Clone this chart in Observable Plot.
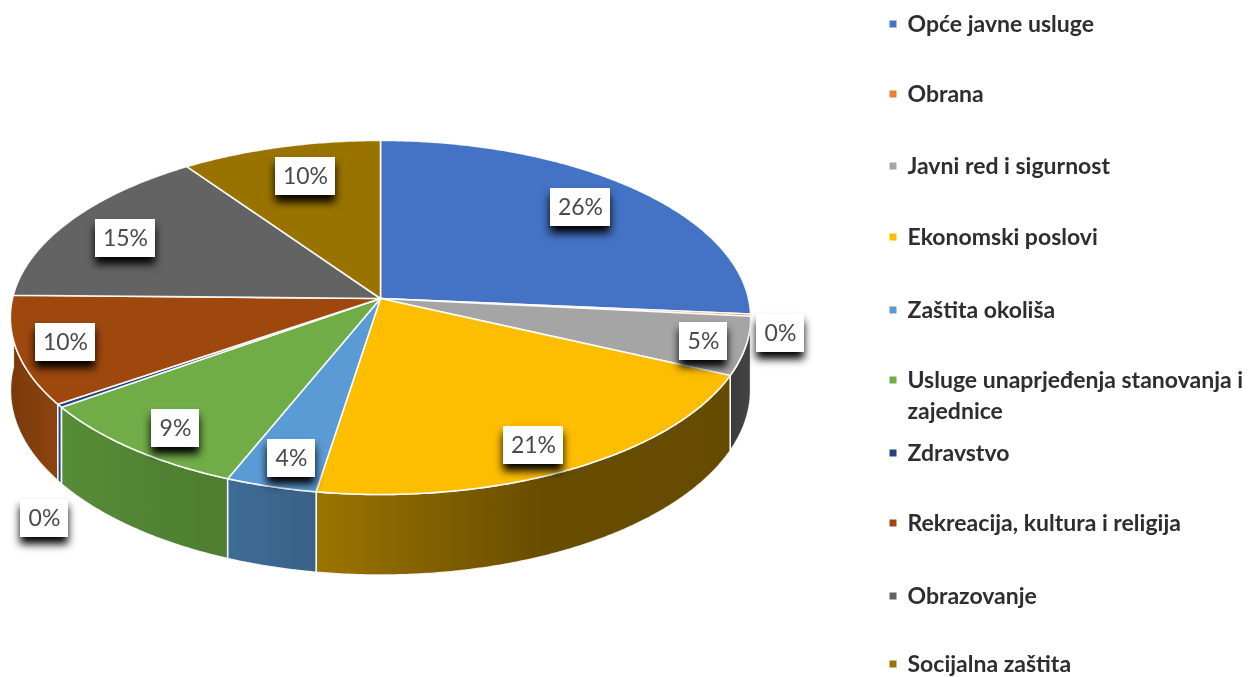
<!DOCTYPE html>
<html>
<head>
<meta charset="utf-8">
<script src="https://cdn.jsdelivr.net/npm/d3@7"></script>
<script src="https://cdn.jsdelivr.net/npm/@observablehq/plot@0.6"></script>
<style>
html,body{margin:0;padding:0;background:#fff}
svg{display:block}
</style>
</head>
<body>
<div id="chart"></div>
<script>
// --- data ---
const categories = ["Opće javne usluge","Obrana","Javni red i sigurnost","Ekonomski poslovi","Zaštita okoliša","Usluge unaprjeđenja stanovanja i\nzajednice","Zdravstvo","Rekreacija, kultura i religija","Obrazovanje","Socijalna zaštita"];
const shares = [26.4,0.2,5.3,20.6,3.6,9.0,0.3,9.9,15.0,9.7];
const labels = ["26%","0%","5%","21%","4%","9%","0%","10%","15%","10%"];
// --- styles ---
const colors = ["#4472c4","#ed7d31","#a5a5a5","#fdbd00","#5b9bd5","#70ad47","#264478","#9e480e","#636363","#997300"];
const sideStops = [
  ["#2f4f88","#2a4678"],["#a05a20","#8a4c1c"],["#3c3c3c","#444444"],["#9c7400","#684d00","#654b00"],
  ["#3d6c98","#3a6186"],["#568c37","#4e7c30"],["#264478","#264478"],["#7a390c","#8d440f"],["#444","#444"],["#6a5000","#6a5000"]
];
// --- layout (pixels) ---
const W = 1257, H = 677, cx = 380, cy = 298, rx = 368, ry = 175, persp = 0.107, depthPx = 72;
const labelCentres = [[580,207],[780,333],[703,341],[533,445],[291,458],[175,428],[44,518],[65,342],[125,238],[305,176]];
const legendRows = [24,94,166,237,310,380,453,523,596,664];
const legendLine = 31, legendSq = 893, legendTx = 907, boxH = 38;

const ux = p => (p - cx) / rx, uy = p => (p - cy) / ry;
const depth = depthPx / ry;

// pie geometry in chart units, from the shares
const project = (deg, r = 1) => {
  const a = deg * Math.PI / 180, X = r * Math.sin(a), Z = r * Math.cos(a), d = 1 + persp * Z;
  return {x: X / d, y: -Z / d, d};
};
let acc = 0;
const arcs = shares.map(v => { const a0 = acc; acc += v; return [a0 * 3.6, acc * 3.6]; });
const steps = ([a0, a1]) => { const n = Math.max(2, Math.ceil((a1 - a0) / 0.5)); return d3.range(n + 1).map(i => a0 + (a1 - a0) * i / n); };
const topFace = arc => [{x: 0, y: 0}, ...steps(arc).map(a => project(a))];
const sideFace = arc => {
  const s = steps(arc);
  return [...s.map(a => project(a)),
          ...s.slice().reverse().map(a => { const p = project(a); return {x: p.x, y: p.y + depth / p.d}; })];
};
// sides are painted back to front
const sideOrder = d3.range(arcs.length).sort((i, j) =>
  d3.ascending(project((arcs[i][0] + arcs[i][1]) / 2).y, project((arcs[j][0] + arcs[j][1]) / 2).y));

const defs = () => {
  const g = d3.create("svg:defs");
  sideStops.forEach((stops, i) => {
    const lg = g.append("linearGradient").attr("id", "side" + i);
    stops.forEach((c, j) => lg.append("stop").attr("offset", stops.length === 3 ? [0, .55, 1][j] : j / (stops.length - 1)).attr("stop-color", c));
  });
  return g.node();
};

const legendData = categories.flatMap((c, i) => c.split("\n").map((t, j) => ({t, y: uy(legendRows[i] + j * legendLine)})));
const legendSquares = categories.map((c, i) => ({x1: ux(legendSq - 3.5), x2: ux(legendSq + 3.5), y1: uy(legendRows[i] - 3.5), y2: uy(legendRows[i] + 3.5), fill: colors[i]}));
const labelData = labels.map((t, i) => {
  const w = t.length === 3 ? 60 : 48, [px, py] = labelCentres[i];
  return {t, x: ux(px), y: uy(py), x1: ux(px - w / 2), x2: ux(px + w / 2), y1: uy(py - boxH / 2), y2: uy(py + boxH / 2)};
});

const plot = Plot.plot({
  width: W, height: H, margin: 0,
  x: {domain: [ux(0), ux(W)], range: [0, W], axis: null},
  y: {domain: [uy(0), uy(H)], range: [0, H], axis: null},
  style: {background: "#fff", fontFamily: "Lato, sans-serif", filter: "blur(0.7px)"},
  marks: [
    defs,
    ...sideOrder.map(i => Plot.line(sideFace(arcs[i]), {x: "x", y: "y", curve: "linear-closed", fill: `url(#side${i})`, stroke: "#fff", strokeWidth: 1.6, strokeOpacity: 0.9})),
    ...arcs.map((arc, i) => Plot.line(topFace(arc), {x: "x", y: "y", curve: "linear-closed", fill: colors[i], stroke: "#fff", strokeWidth: 1.6, strokeOpacity: 0.9})),
    Plot.rect(labelData, {x1: "x1", x2: "x2", y1: "y1", y2: "y2", fill: "#fff", imageFilter: "drop-shadow(0 7px 4px #000)"}),
    Plot.text(labelData, {x: "x", y: "y", text: "t", fontSize: 23, fill: "#4a4a4a"}),
    Plot.rect(legendSquares, {x1: "x1", x2: "x2", y1: "y1", y2: "y2", fill: d => d.fill}),
    Plot.text(legendData, {x: ux(legendTx), y: "y", text: "t", textAnchor: "start", fontSize: 23, fontWeight: 700, fill: "#2e2e2e"})
  ],
  color: {type: "identity"}
});
document.getElementById("chart").append(plot);
</script>
</body>
</html>
